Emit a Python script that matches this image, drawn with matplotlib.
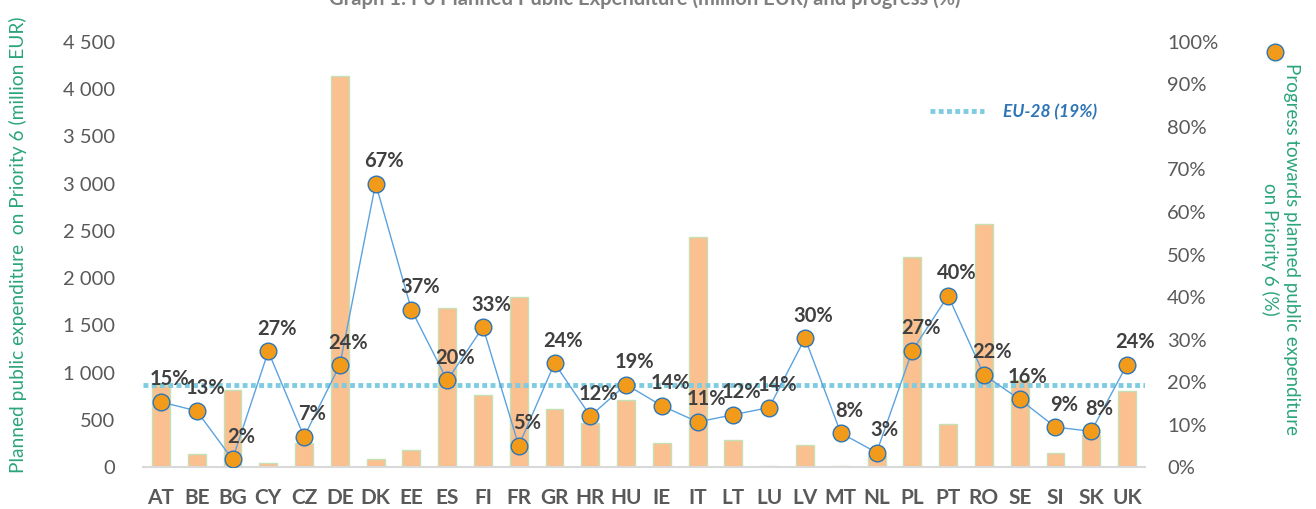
import numpy as np
import matplotlib.pyplot as plt
from matplotlib.lines import Line2D

plt.rcParams['font.family'] = ['Lato', 'DejaVu Sans']

paises = ["AT", "BE", "BG", "CY", "CZ", "DE", "DK", "EE", "ES", "FI", "FR", "GR", "HR", "HU",
          "IE", "IT", "LT", "LU", "LV", "MT", "NL", "PL", "PT", "RO", "SE", "SI", "SK", "UK"]
gasto = [870, 140, 815, 45, 255, 4140, 90, 185, 1685, 765, 1800, 615, 465, 710,
         255, 2435, 290, 10, 235, 10, 115, 2225, 460, 2575, 925, 150, 335, 805]
progreso = [15.3, 13.2, 1.8, 27.2, 7.1, 24.0, 66.7, 37.0, 20.4, 32.9, 5.0, 24.4, 12.0, 19.4,
            14.4, 10.6, 12.3, 14.0, 30.3, 8.0, 3.4, 27.4, 40.3, 21.7, 15.9, 9.4, 8.4, 24.1]
media_ue = 19.3

gris = "#595959"
verde = "#2BA57C"

fig = plt.figure(figsize=(13.16, 5.09), dpi=100)
ax = fig.add_axes([0.1087, 0.0825, 0.7613, 0.835])
x = np.arange(len(paises))

ax.bar(x, gasto, width=0.5, color="#FAC090", edgecolor="#C5E0B4", linewidth=1, zorder=1)
ax.set_xlim(-0.5, len(paises) - 0.5)
ax.set_ylim(0, 4500)
ax.set_yticks(np.arange(0, 4501, 500))
ax.set_yticklabels([f"{v:,}".replace(",", " ") for v in range(0, 4501, 500)])
ax.set_xticks(x)
ax.set_xticklabels(paises, fontweight="bold", fontsize=15)
ax.tick_params(axis="y", length=0, labelsize=14.5, labelcolor=gris, pad=20)
ax.tick_params(axis="x", length=0, labelcolor=gris, pad=15)
for lado in ["top", "right", "left"]:
    ax.spines[lado].set_visible(False)
ax.spines["bottom"].set_color("#D9D9D9")
ax.spines["bottom"].set_linewidth(1.5)

ax2 = ax.twinx()
ax2.set_ylim(0, 100)
ax2.set_yticks(np.arange(0, 101, 10))
ax2.set_yticklabels([f"{v}%" for v in range(0, 101, 10)])
ax2.tick_params(axis="y", length=0, labelsize=14.5, labelcolor=gris, pad=16)
for lado in ["top", "right", "left", "bottom"]:
    ax2.spines[lado].set_visible(False)

linea_ue, = ax2.plot([-0.5, len(paises) - 0.45], [media_ue, media_ue], color="#7FCCE0",
                     linewidth=3.5, linestyle=(0, (1, 0.7)), zorder=2)
ax2.plot(x, progreso, color="#5BA3E0", linewidth=1, marker="o", markersize=12,
         markerfacecolor="#F29B1A", markeredgecolor="#2E75B6", markeredgewidth=1, zorder=3)
for xi, p in zip(x, progreso):
    ax2.annotate(f"{round(p)}%", (xi, p), xytext=(6, 9), textcoords="offset points",
                 ha="center", va="bottom", fontsize=14.5, fontweight="bold", color="#404040",
                 zorder=4)

ax2.legend([linea_ue], ["EU-28 (19%)"], loc="center left", bbox_to_anchor=(0.77, 0.835),
           frameon=False, handlelength=3.1, handletextpad=1.1,
           prop={"style": "italic", "weight": "bold", "size": 12.5}, labelcolor="#2E75B6")

fig.text(0.49, 1.003, "Graph 1: P6 Planned Public Expenditure (million EUR) and progress (%)",
         ha="center", va="center", fontsize=14.5, fontweight="bold", color="#7F7F7F")
fig.text(0.014, 0.52, "Planned public expenditure  on Priority 6 (million EUR)", rotation=90,
         ha="center", va="center", fontsize=13.8, color=verde)
fig.text(0.973, 0.51, "Progress towards planned public expenditure\non Priority 6 (%)",
         rotation=270, ha="center", va="center", multialignment="center",
         fontsize=13.5, color=verde, linespacing=1.2)
fig.add_artist(Line2D([0.969], [0.898], marker="o", markersize=12, markerfacecolor="#F29B1A",
                      markeredgecolor="#2E75B6", markeredgewidth=1, transform=fig.transFigure))

fig.savefig("out.png", dpi=100)
